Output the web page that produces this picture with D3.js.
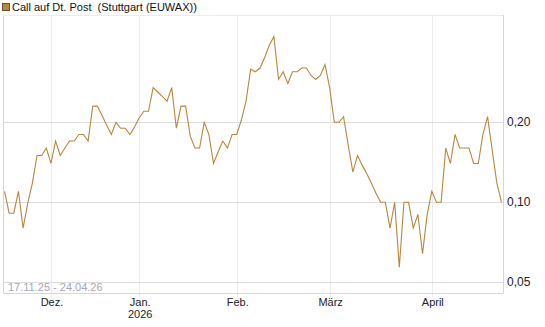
<!DOCTYPE html>
<html>
<head>
<meta charset="utf-8">
<script src="https://cdn.jsdelivr.net/npm/d3@7"></script>
<style>
  body { margin: 0; background: #fff; }
  text { font-family: "Liberation Sans", Arial, sans-serif; }
</style>
</head>
<body>
<script>
const width = 545;
const height = 327;

// closing prices, one per trading day 17.11.25 - 24.04.26
const prices = [
  0.110, 0.091, 0.091, 0.110, 0.080, 0.099, 0.118, 0.150, 0.150, 0.160,
  0.140, 0.170, 0.150, 0.160, 0.170, 0.170, 0.180, 0.180, 0.170, 0.230,
  0.230, 0.212, 0.195, 0.180, 0.200, 0.190, 0.190, 0.180, 0.192, 0.208,
  0.220, 0.220, 0.270, 0.260, 0.250, 0.240, 0.270, 0.190, 0.230, 0.230,
  0.177, 0.160, 0.160, 0.200, 0.180, 0.140, 0.155, 0.170, 0.160, 0.180,
  0.180, 0.204, 0.240, 0.317, 0.310, 0.320, 0.350, 0.390, 0.420, 0.290,
  0.310, 0.280, 0.310, 0.310, 0.320, 0.320, 0.300, 0.290, 0.300, 0.330,
  0.270, 0.200, 0.200, 0.210, 0.164, 0.130, 0.150, 0.138, 0.128, 0.118,
  0.108, 0.100, 0.100, 0.080, 0.100, 0.057, 0.100, 0.100, 0.080, 0.090,
  0.064, 0.090, 0.110, 0.100, 0.100, 0.160, 0.140, 0.180, 0.160, 0.160,
  0.160, 0.140, 0.140, 0.180, 0.210, 0.157, 0.118, 0.100
];

// month starts as trading-day index
const monthIdx = [10, 29, 50, 70, 92];
const monthLabels = ["Dez.", "Jan.", "Feb.", "März", "April"];
const monthSub = ["", "2026", "", "", ""];

const yTicks = [0.05, 0.10, 0.20];

const legendText = "Call auf Dt. Post  (Stuttgart (EUWAX))";
const rangeText = "17.11.25 - 24.04.26";

const plot = { left: 3, right: 503, top: 15, bottom: 293 };

const svg = d3.select('body')
  .append('svg')
  .attr('width', width)
  .attr('height', height);

const x = d3.scaleLinear()
  .domain([0, prices.length - 1])
  .range([4.5, 501.5]);

const y = d3.scaleLog()
  .domain([0.05, 0.20])
  .range([282.3, 122.3]);

// vertical grid
svg.selectAll('line.vgrid')
  .data(monthIdx)
  .enter()
  .append('line')
  .attr('class', 'vgrid')
  .attr('x1', d => Math.round(x(d)) + 0.5)
  .attr('x2', d => Math.round(x(d)) + 0.5)
  .attr('y1', plot.top)
  .attr('y2', plot.bottom + 4)
  .attr('stroke', '#ececec');

// horizontal grid
svg.selectAll('line.hgrid')
  .data(yTicks)
  .enter()
  .append('line')
  .attr('class', 'hgrid')
  .attr('x1', plot.left)
  .attr('x2', plot.right)
  .attr('y1', d => Math.round(y(d)) + 0.5)
  .attr('y2', d => Math.round(y(d)) + 0.5)
  .attr('stroke', '#dcdcdc');

// frame
svg.append('path')
  .attr('d', `M${plot.left + 0.5},${plot.top}V${plot.bottom + 0.5}H${plot.right + 0.5}V${plot.top}`)
  .attr('fill', 'none')
  .attr('stroke', '#d6d6d6');
svg.append('line')
  .attr('x1', plot.left).attr('x2', plot.right)
  .attr('y1', plot.top + 0.5).attr('y2', plot.top + 0.5)
  .attr('stroke', '#ececec');

// date range label
svg.append('text')
  .attr('x', 8)
  .attr('y', 290.5)
  .attr('font-size', 11)
  .attr('fill', '#a3a8b4')
  .text(rangeText);

// price line
const line = d3.line()
  .x((d, i) => x(i))
  .y(d => y(d));

svg.append('path')
  .datum(prices)
  .attr('d', line)
  .attr('fill', 'none')
  .attr('stroke', '#b5873f')
  .attr('stroke-width', 1.1);

// y labels (right)
svg.selectAll('text.ylab')
  .data(yTicks)
  .enter()
  .append('text')
  .attr('class', 'ylab')
  .attr('x', 507)
  .attr('y', d => y(d) + 4)
  .attr('font-size', 12)
  .attr('fill', '#222')
  .text(d => d3.format('.2f')(d).replace('.', ','));

// x labels
svg.selectAll('text.xlab')
  .data(monthIdx)
  .enter()
  .append('text')
  .attr('class', 'xlab')
  .attr('x', d => x(d) + 1)
  .attr('y', 305.5)
  .attr('font-size', 11)
  .attr('text-anchor', 'middle')
  .attr('fill', '#222')
  .text((d, i) => monthLabels[i]);

svg.selectAll('text.xsub')
  .data(monthIdx)
  .enter()
  .append('text')
  .attr('class', 'xsub')
  .attr('x', d => x(d) + 1)
  .attr('y', 317.5)
  .attr('font-size', 11)
  .attr('text-anchor', 'middle')
  .attr('fill', '#222')
  .text((d, i) => monthSub[i]);

// legend
svg.append('rect')
  .attr('x', 2.5)
  .attr('y', 3.5)
  .attr('width', 7)
  .attr('height', 7)
  .attr('fill', '#b5873f')
  .attr('stroke', '#6b5030');

svg.append('text')
  .attr('x', 12)
  .attr('y', 11)
  .attr('font-size', 11)
  .attr('fill', '#111')
  .attr('xml:space', 'preserve')
  .style('white-space', 'pre')
  .text(legendText);
</script>
</body>
</html>
